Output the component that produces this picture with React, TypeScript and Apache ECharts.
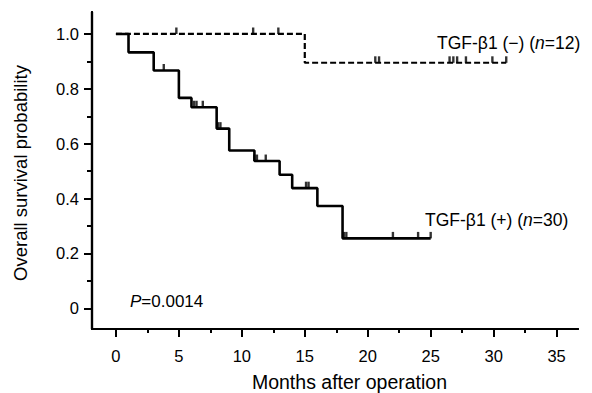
import React, { useEffect, useRef } from "react";
import * as echarts from "echarts";

// Axis ticks
const xMajorTicks = [0, 5, 10, 15, 20, 25, 30, 35];
const xMinorTicks = [2.5, 7.5, 12.5, 17.5, 22.5, 27.5, 32.5];
const yMajorTicks = [0, 0.2, 0.4, 0.6, 0.8, 1.0];
const yMinorTicks = [0.1, 0.3, 0.5, 0.7, 0.9];

// TGF-β1 (−) group, n=12 (Kaplan–Meier steps)
const negTimes = [0, 15, 31];
const negSurv = [1, 0.895, 0.895];
const negCensor = [4.8, 10.9, 12.9, 20.6, 20.9, 26.5, 26.8, 27.1, 27.8, 29.9, 31];

// TGF-β1 (+) group, n=30
const posTimes = [0, 1, 3, 5, 6, 8, 9, 11, 13, 14, 16, 18, 25];
const posSurv = [1, 0.933, 0.867, 0.767, 0.733, 0.655, 0.575, 0.537, 0.487, 0.438, 0.373, 0.255, 0.255];
const posCensor = [3.8, 6.2, 6.4, 6.9, 8.1, 8.3, 11.0, 11.2, 11.9, 15.1, 15.3, 18.1, 18.3, 22, 24, 25];

const FONT = "'Liberation Sans', Arial, Helvetica, sans-serif";

function survAt(times: number[], surv: number[], t: number) {
  let s = surv[0];
  for (let i = 0; i < times.length; i++) if (times[i] <= t) s = surv[i];
  return s;
}

export default function App() {
  const ref = useRef<HTMLDivElement>(null);
  useEffect(() => {
    if (!ref.current) return;
    const chart = echarts.init(ref.current, null, { renderer: "svg" });
    const xMin = -1.9;
    const xMax = 36.7;
    const yMin = -0.0754;
    const yMax = 1.08;
    const axisLine = { show: true, onZero: false, lineStyle: { color: "#000", width: 2.2 } };
    const censorSymbol = {
      type: "scatter" as const,
      symbol: "rect",
      symbolSize: [2.4, 6.5],
      symbolOffset: [0, -3.2],
      itemStyle: { color: "#000" },
      z: 3,
    };
    const rich = (size: number) => ({
      a: { fontSize: size, fontFamily: FONT, fill: "#000" },
      i: { fontSize: size, fontFamily: FONT, fontStyle: "italic", fill: "#000" },
    });
    chart.setOption({
      animation: false,
      backgroundColor: "#fff",
      textStyle: { fontFamily: FONT },
      grid: { left: 92, right: 14, top: 12, bottom: 64, containLabel: false, outerBoundsMode: "none" },
      xAxis: [
        {
          type: "value",
          min: xMin,
          max: xMax,
          position: "bottom",
          offset: 0,
          axisLine,
          splitLine: { show: false },
          axisTick: { show: true, length: 8, lineStyle: { width: 2, color: "#000" }, customValues: xMajorTicks },
          axisLabel: { customValues: xMajorTicks, fontSize: 16.5, color: "#000", margin: 18, fontFamily: FONT },
          name: "Months after operation",
          nameLocation: "middle",
          nameGap: 43,
          nameTextStyle: { fontSize: 19.5, color: "#000", fontFamily: FONT, padding: [0, 0, 0, 29] },
        },
        {
          type: "value",
          min: xMin,
          max: xMax,
          position: "bottom",
          offset: 0,
          axisLine,
          splitLine: { show: false },
          axisTick: { show: true, length: 4, lineStyle: { width: 2, color: "#000" }, customValues: xMinorTicks },
          axisLabel: { show: false },
        },
      ],
      yAxis: [
        {
          type: "value",
          min: yMin,
          max: yMax,
          position: "left",
          offset: 0,
          axisLine,
          splitLine: { show: false },
          axisTick: { show: true, length: 8, lineStyle: { width: 2, color: "#000" }, customValues: yMajorTicks },
          axisLabel: {
            customValues: yMajorTicks,
            fontSize: 16.5,
            color: "#000",
            margin: 13,
            fontFamily: FONT,
            formatter: (v: number) => (v === 0 ? "0" : v.toFixed(1)),
          },
          name: "Overall survival probability",
          nameLocation: "middle",
          nameGap: 62,
          nameRotate: 90,
          nameTextStyle: { fontSize: 18.5, color: "#000", fontFamily: FONT, padding: [0, 5, 0, 0] },
        },
        {
          type: "value",
          min: yMin,
          max: yMax,
          position: "left",
          offset: 0,
          axisLine,
          splitLine: { show: false },
          axisTick: { show: true, length: 5, lineStyle: { width: 2, color: "#000" }, customValues: yMinorTicks },
          axisLabel: { show: false },
        },
      ],
      series: [
        {
          name: "TGF-β1 (−)",
          type: "line",
          step: "end",
          data: negTimes.map((t, i) => [t, negSurv[i]]),
          showSymbol: false,
          lineStyle: { color: "#000", width: 2.2, type: [6, 3] },
          z: 2,
        },
        {
          ...censorSymbol,
          name: "TGF-β1 (−) censored",
          data: negCensor.map((t) => [t, survAt(negTimes, negSurv, t)]),
        },
        {
          name: "TGF-β1 (+)",
          type: "line",
          step: "end",
          data: posTimes.map((t, i) => [t, posSurv[i]]),
          showSymbol: false,
          lineStyle: { color: "#000", width: 2.6, type: "solid" },
          z: 2,
        },
        {
          ...censorSymbol,
          name: "TGF-β1 (+) censored",
          data: posCensor.map((t) => [t, survAt(posTimes, posSurv, t)]),
        },
      ],
      graphic: [
        {
          type: "text",
          x: 437,
          y: 43,
          style: { text: "{a|TGF-β1 (−) (}{i|n}{a|=12)}", verticalAlign: "middle", rich: rich(17.5) },
        },
        {
          type: "text",
          x: 425,
          y: 220,
          style: { text: "{a|TGF-β1 (+) (}{i|n}{a|=30)}", verticalAlign: "middle", rich: rich(17.5) },
        },
        {
          type: "text",
          x: 130,
          y: 301,
          style: { text: "{i|P}{a|=0.0014}", verticalAlign: "middle", rich: rich(17) },
        },
      ],
    });
    return () => chart.dispose();
  }, []);
  return (
    <div
      ref={ref}
      style={{ position: "fixed", left: 0, top: 0, width: 592, height: 393, background: "#fff" }}
    />
  );
}
